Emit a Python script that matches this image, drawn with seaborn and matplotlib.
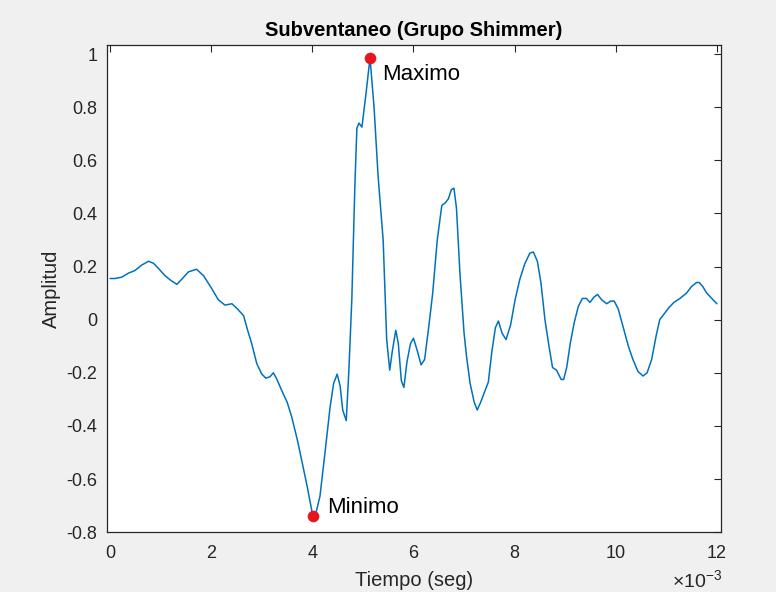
import numpy as np
import pandas as pd
import matplotlib
matplotlib.use("Agg")
import matplotlib.pyplot as plt
import seaborn as sns
from matplotlib.ticker import FuncFormatter

# tiempo (ms) y amplitud
tiempo_ms = [0.00, 0.10, 0.23, 0.36, 0.49, 0.62, 0.76, 0.86, 0.97, 1.09,
             1.20, 1.32, 1.43, 1.55, 1.71, 1.85, 2.00, 2.14, 2.27, 2.41,
             2.52, 2.64, 2.72, 2.80, 2.90, 3.00, 3.08, 3.16, 3.23, 3.30,
             3.39, 3.50, 3.59, 3.70, 3.79, 3.90, 4.01, 4.08, 4.15, 4.25,
             4.35, 4.42, 4.49, 4.55, 4.60, 4.67, 4.72, 4.78, 4.84, 4.88,
             4.92, 4.98, 5.06, 5.14, 5.22, 5.30, 5.40, 5.47, 5.53, 5.58,
             5.65, 5.70, 5.76, 5.81, 5.87, 5.94, 6.00, 6.08, 6.15, 6.22,
             6.30, 6.38, 6.47, 6.56, 6.63, 6.69, 6.75, 6.80, 6.85, 6.92,
             7.00, 7.05, 7.12, 7.20, 7.26, 7.33, 7.42, 7.48, 7.55, 7.62,
             7.68, 7.75, 7.83, 7.92, 8.01, 8.10, 8.20, 8.30, 8.37, 8.45,
             8.52, 8.60, 8.68, 8.75, 8.83, 8.92, 8.97, 9.03, 9.10, 9.18,
             9.26, 9.34, 9.42, 9.49, 9.57, 9.64, 9.72, 9.82, 9.90, 9.97,
             10.05, 10.15, 10.25, 10.34, 10.44, 10.54, 10.62, 10.71, 10.80, 10.87,
             10.95, 11.05, 11.15, 11.27, 11.40, 11.50, 11.60, 11.65, 11.72, 11.80,
             11.90, 12.00]
amplitud = [0.155, 0.155, 0.160, 0.175, 0.185, 0.205, 0.220, 0.212, 0.190, 0.165,
            0.148, 0.133, 0.155, 0.180, 0.190, 0.165, 0.120, 0.075, 0.055, 0.060,
            0.040, 0.015, -0.040, -0.090, -0.165, -0.205, -0.220, -0.215, -0.200, -0.225,
            -0.265, -0.310, -0.365, -0.450, -0.530, -0.630, -0.740, -0.720, -0.665, -0.500,
            -0.330, -0.240, -0.205, -0.250, -0.340, -0.380, -0.200, 0.075, 0.500, 0.720,
            0.740, 0.725, 0.850, 0.985, 0.800, 0.540, 0.300, -0.075, -0.190, -0.120,
            -0.040, -0.090, -0.230, -0.255, -0.160, -0.090, -0.070, -0.120, -0.170, -0.150,
            -0.030, 0.100, 0.300, 0.430, 0.440, 0.455, 0.490, 0.495, 0.420, 0.170,
            -0.050, -0.140, -0.240, -0.310, -0.340, -0.310, -0.265, -0.235, -0.120, -0.030,
            -0.005, -0.050, -0.075, -0.020, 0.075, 0.150, 0.210, 0.250, 0.255, 0.220,
            0.140, 0.000, -0.100, -0.180, -0.190, -0.225, -0.225, -0.180, -0.090, -0.010,
            0.050, 0.080, 0.080, 0.065, 0.085, 0.095, 0.075, 0.060, 0.070, 0.070,
            0.040, -0.030, -0.100, -0.150, -0.195, -0.212, -0.200, -0.150, -0.060, 0.000,
            0.020, 0.045, 0.065, 0.080, 0.100, 0.125, 0.140, 0.140, 0.125, 0.100,
            0.080, 0.060]

etiquetas = ["Maximo", "Minimo"]

df = pd.DataFrame({"Tiempo": np.array(tiempo_ms) * 1e-3, "Amplitud": amplitud})
i_max = df["Amplitud"].idxmax()
i_min = df["Amplitud"].idxmin()
df_ext = df.loc[[i_max, i_min]].assign(Etiqueta=etiquetas)

sns.set_style("white")
plt.rcParams["font.family"] = ["Liberation Sans", "DejaVu Sans"]
plt.rcParams["axes.unicode_minus"] = False
plt.rcParams["mathtext.default"] = "regular"

gris = "#262626"
fig = plt.figure(figsize=(7.76, 5.92), dpi=100, facecolor="#f0f0f0")
ax = fig.add_axes([0.138, 0.101, 0.791, 0.823])
ax.set_facecolor("white")

sns.lineplot(data=df, x="Tiempo", y="Amplitud", ax=ax, color="#0072BD",
             linewidth=1.1, estimator=None, sort=False)
sns.scatterplot(data=df_ext, x="Tiempo", y="Amplitud", ax=ax, color="#e8141e",
                s=70, edgecolor="#e8141e", linewidth=0, zorder=3)

ax.annotate("Maximo", (df_ext.iloc[0]["Tiempo"], df_ext.iloc[0]["Amplitud"]),
            xytext=(9, -12), textcoords="offset points", fontsize=16,
            va="center", ha="left", color="black")
ax.annotate("Minimo", (df_ext.iloc[1]["Tiempo"], df_ext.iloc[1]["Amplitud"]),
            xytext=(10, 6), textcoords="offset points", fontsize=16,
            va="center", ha="left", color="black")

ax.set_xlim(-0.00006, 0.01208)
ax.set_ylim(-0.8, 1.034)
ax.set_xticks(np.arange(0, 0.0121, 0.002))
ax.set_yticks(np.arange(-0.8, 1.01, 0.2))
ax.xaxis.set_major_formatter(FuncFormatter(lambda v, p: "%g" % (round(v * 1e3, 2) + 0.0)))
ax.yaxis.set_major_formatter(FuncFormatter(lambda v, p: "%g" % (round(v, 2) + 0.0)))
fig.text(722 / 776, 1 - 580 / 592, r"$\times10^{-3}$", ha="right", va="center",
         fontsize=14, color=gris)

ax.tick_params(direction="in", length=5, width=0.8, colors=gris, labelsize=13,
               pad=7, top=True, right=True, labeltop=False, labelright=False)
ax.tick_params(axis="x", pad=9)
for s in ax.spines.values():
    s.set_color(gris)
    s.set_linewidth(0.9)

ax.set_title("Subventaneo (Grupo Shimmer)", fontsize=14.5, fontweight="bold",
             color="black", pad=6.5)
ax.set_xlabel("Tiempo (seg)", fontsize=14.5, color=gris, labelpad=7)
ax.set_ylabel("Amplitud", fontsize=14.5, color=gris, labelpad=4)

fig.savefig("out.png", dpi=100, facecolor=fig.get_facecolor())
